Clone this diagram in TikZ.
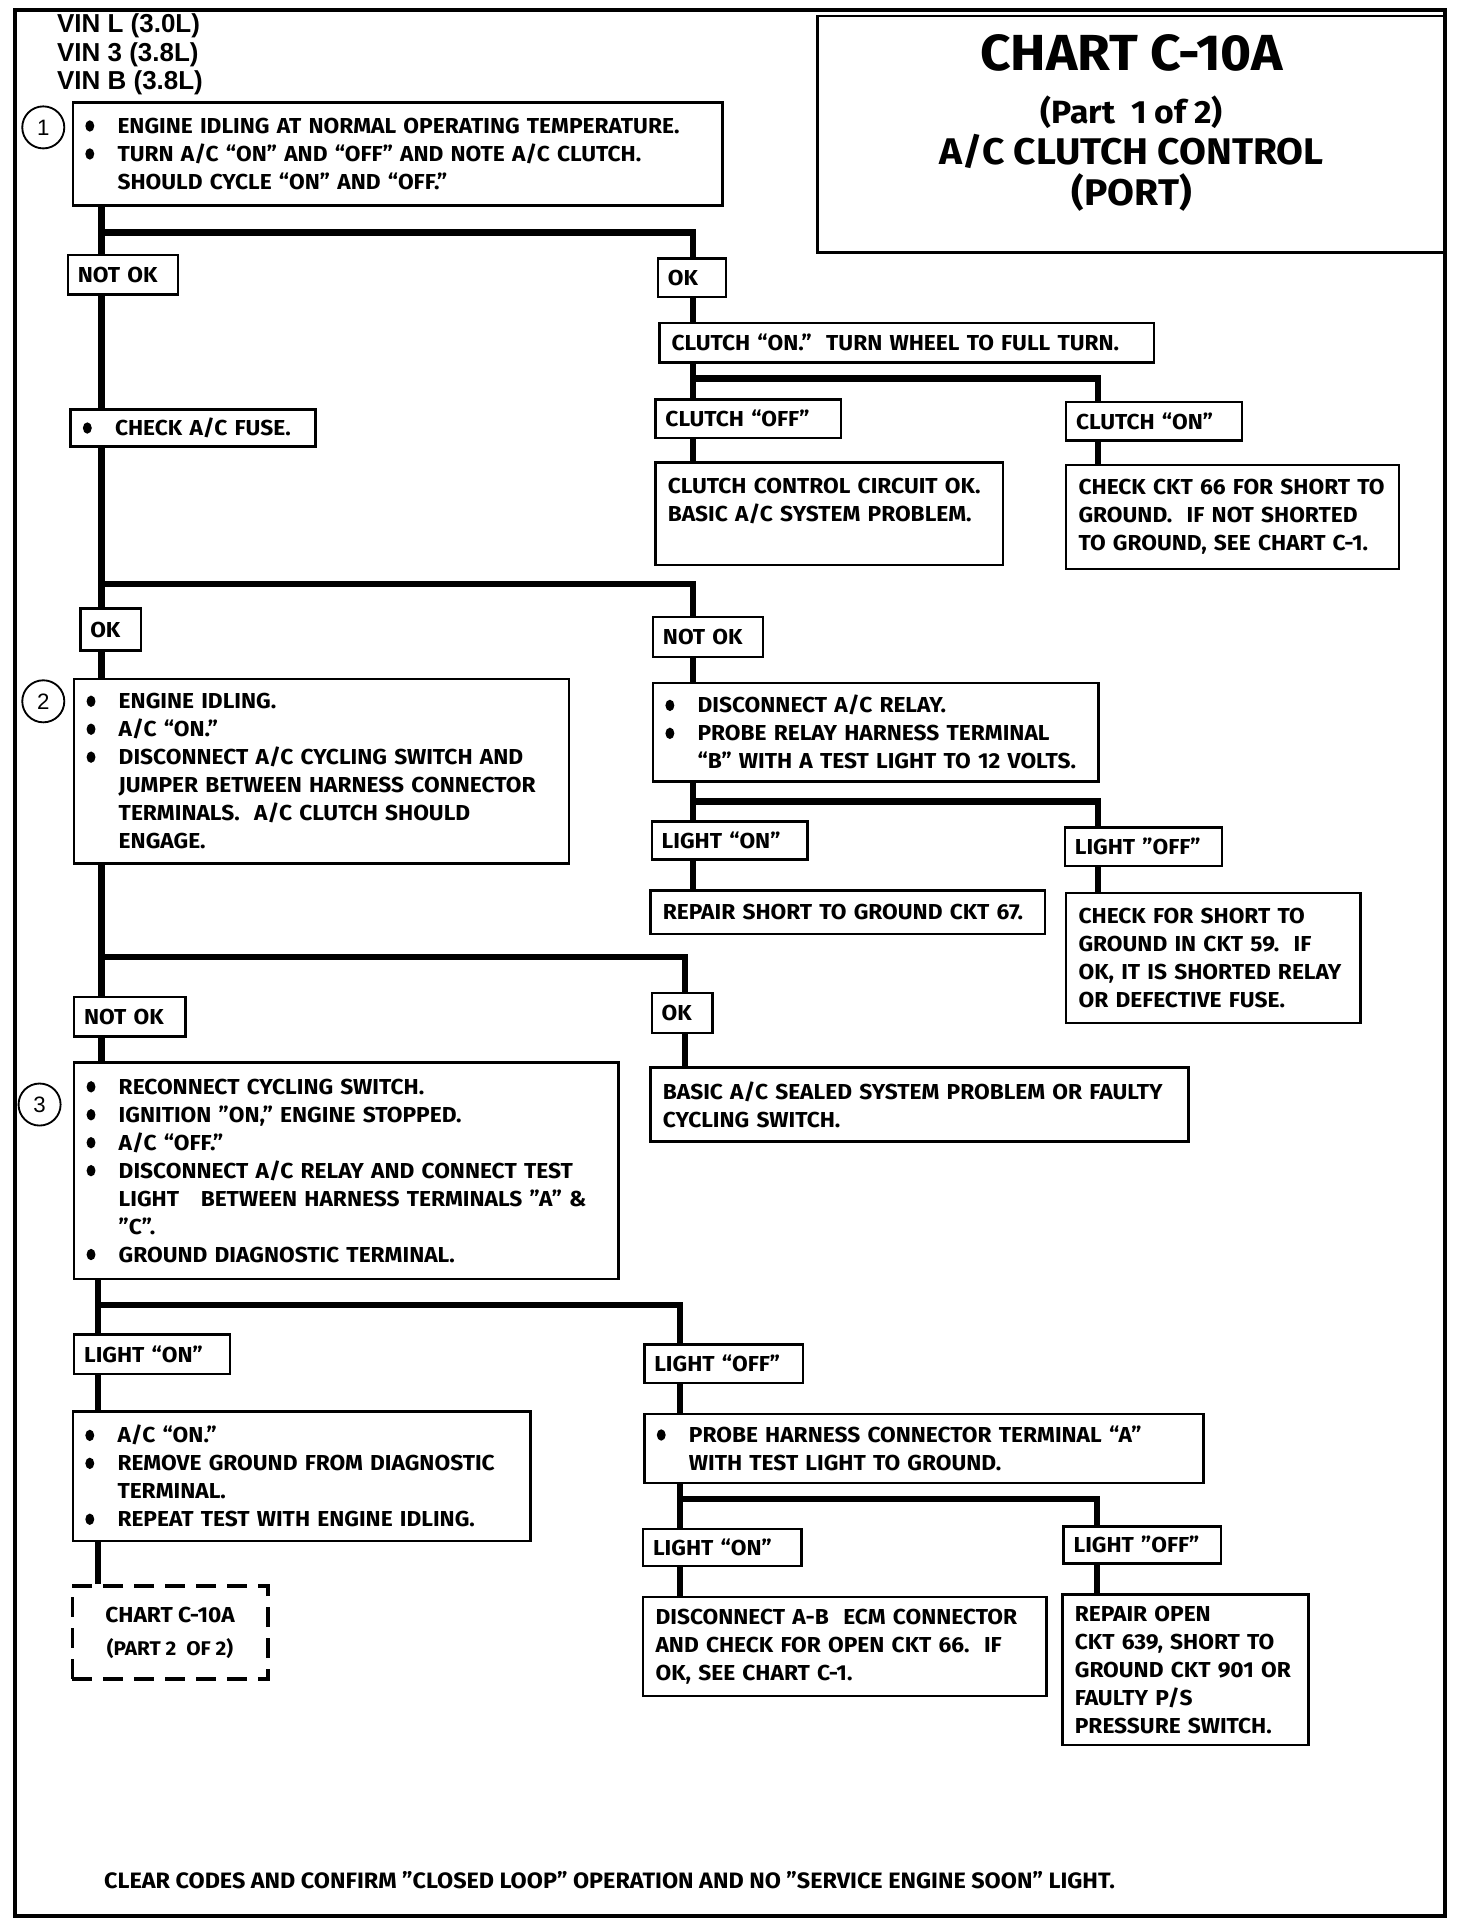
\documentclass[tikz,border=0pt]{standalone}
\usepackage{fontspec}
\setmainfont{Fira Sans}[FakeStretch=1.05]
\newfontfamily\vinfont{Liberation Sans}
\usepackage{tikz}

\newcommand\bul{\makebox[26pt][l]{\raisebox{1.5pt}{\tikz\fill (0,0) ellipse (3.6pt and 4.6pt);}}}
\newcommand\ind{\hspace*{26pt}}

\begin{document}
\begin{tikzpicture}[x=1pt,y=-1pt]
\tikzstyle{chartbox}=[rectangle,draw,line width=2pt,anchor=north west,align=left,inner xsep=10pt,inner ysep=0pt,font=\fontsize{17.5}{22.6}\selectfont\bfseries]
\tikzstyle{answer}=[chartbox,inner xsep=8pt]
\tikzstyle{wire}=[line width=5pt]
\tikzstyle{stepno}=[circle,draw,line width=1.5pt,minimum size=34pt,inner sep=0pt,font=\vinfont\fontsize{18}{18}\selectfont]
\tikzstyle{titleline}=[anchor=base,inner sep=0pt,font=\fontsize{30}{33}\selectfont\bfseries]
\useasboundingbox (0,0) rectangle (1190,1562);
\draw[line width=3pt] (12,8) rectangle (1168,1549);

% heading
\node[anchor=north west,align=left,inner sep=0pt,font=\vinfont\bfseries\fontsize{21}{23}\selectfont] (vin) at (46,11) {VIN L (3.0L)\\VIN 3 (3.8L)\\VIN B (3.8L)};
\node[draw,line width=2pt,anchor=north west,minimum width=507pt,minimum height=191pt] (title) at (660,12) {};
\node[titleline,font=\fontsize{41}{41}\selectfont\bfseries] (chart) at (915,57) {CHART C-10A};
\node[titleline,font=\fontsize{26}{30}\selectfont\bfseries] (part) at (915,100) {(Part~~1 of 2)};
\node[titleline] (clutch) at (915,133) {A/C CLUTCH CONTROL};
\node[titleline] (port) at (915,166) {(PORT)};

% step 1
\node[stepno] (n1) at (35,103) {1};
\node[chartbox,text width=505pt,minimum height=83pt] (step1) at (58,82)
 {\bul ENGINE IDLING AT NORMAL OPERATING TEMPERATURE.\\
  \bul TURN A/C “ON” AND “OFF” AND NOTE A/C CLUTCH.\\
  \ind SHOULD CYCLE “ON” AND “OFF.”};
\node[answer,text width=73pt,minimum height=32pt] (notok1) at (54,205) {NOT OK};
\node[answer,text width=39pt,minimum height=31pt] (ok1) at (531,208) {OK};
\node[chartbox,text width=178pt,minimum height=30pt] (fuse) at (56,330) {\bul CHECK A/C FUSE.};
\node[chartbox,text width=380pt,minimum height=32pt] (turn) at (532,260) {CLUTCH “ON.”~~TURN WHEEL TO FULL TURN.};
\node[answer,text width=134pt,minimum height=31pt] (cloff) at (529,322) {CLUTCH “OFF”};
\node[answer,text width=126pt,minimum height=31pt] (clon) at (861,324) {CLUTCH “ON”};
\node[chartbox,text width=261pt,minimum height=83pt] (ccok) at (529,373)
 {CLUTCH CONTROL CIRCUIT OK.\\ BASIC A/C SYSTEM PROBLEM.\\ \mbox{}};
\node[chartbox,text width=249pt,minimum height=84pt] (ckt66) at (861,375)
 {CHECK CKT 66 FOR SHORT TO\\ GROUND.~~IF NOT SHORTED\\ TO GROUND, SEE CHART C-1.};

% step 2
\node[answer,text width=33pt,minimum height=34pt] (ok2) at (64,491) {OK};
\node[answer,text width=73pt,minimum height=32pt] (notok2) at (527,498) {NOT OK};
\node[stepno] (n2) at (35,567) {2};
\node[chartbox,text width=380pt,minimum height=149pt] (step2) at (59,548)
 {\bul ENGINE IDLING.\\
  \bul A/C “ON.”\\
  \bul DISCONNECT A/C CYCLING SWITCH AND\\
  \ind JUMPER BETWEEN HARNESS CONNECTOR\\
  \ind TERMINALS.~~A/C CLUTCH SHOULD\\
  \ind ENGAGE.};
\node[chartbox,text width=340pt,minimum height=80pt] (relay) at (527,551)
 {\bul DISCONNECT A/C RELAY.\\
  \bul PROBE RELAY HARNESS TERMINAL\\
  \ind “B” WITH A TEST LIGHT TO 12 VOLTS.};
\node[answer,text width=110pt,minimum height=31pt] (lon1) at (526,663) {LIGHT “ON”};
\node[answer,text width=111pt,minimum height=31pt] (loff1) at (860,668) {LIGHT "OFF”};
\node[chartbox,text width=299pt,minimum height=35pt] (ckt67) at (525,719) {REPAIR SHORT TO GROUND CKT 67.};
\node[chartbox,text width=218pt,minimum height=105pt] (ckt59) at (861,721)
 {CHECK FOR SHORT TO\\ GROUND IN CKT 59.~~IF\\ OK, IT IS SHORTED RELAY\\ OR DEFECTIVE FUSE.};

% step 3
\node[answer,text width=74pt,minimum height=32pt] (notok3) at (59,805) {NOT OK};
\node[answer,text width=33pt,minimum height=32pt] (ok3) at (526,802) {OK};
\node[stepno] (n3) at (32,893) {3};
\node[chartbox,text width=420pt,minimum height=175pt] (step3) at (59,858)
 {\bul RECONNECT CYCLING SWITCH.\\
  \bul IGNITION "ON," ENGINE STOPPED.\\
  \bul A/C “OFF.”\\
  \bul DISCONNECT A/C RELAY AND CONNECT TEST\\
  \ind LIGHT~~~BETWEEN HARNESS TERMINALS "A" \&\\
  \ind "C”.\\
  \bul GROUND DIAGNOSTIC TERMINAL.};
\node[chartbox,text width=415pt,minimum height=60pt] (sealed) at (525,862)
 {BASIC A/C SEALED SYSTEM PROBLEM OR FAULTY\\ CYCLING SWITCH.};
\node[answer,text width=110pt,minimum height=32pt] (lon2) at (59,1078) {LIGHT “ON”};
\node[answer,text width=112pt,minimum height=31pt] (loff2) at (520,1086) {LIGHT “OFF”};
\node[chartbox,text width=350pt,minimum height=105pt] (acon) at (58,1140)
 {\bul A/C “ON.”\\
  \bul REMOVE GROUND FROM DIAGNOSTIC\\
  \ind TERMINAL.\\
  \bul REPEAT TEST WITH ENGINE IDLING.};
\node[rectangle,draw,line width=3pt,dash pattern=on 16pt off 9pt,anchor=north west,minimum width=158pt,minimum height=75pt,align=center,font=\fontsize{16}{27}\selectfont\bfseries] (part2) at (57,1281)
 {{\fontsize{17.5}{27}\selectfont CHART C-10A}\\ (PART 2~~OF 2)};
\node[chartbox,text width=432pt,minimum height=56pt] (probe) at (520,1142)
 {\bul PROBE HARNESS CONNECTOR TERMINAL “A”\\
  \ind WITH TEST LIGHT TO GROUND.};
\node[answer,text width=112pt,minimum height=30pt] (lon3) at (519,1235) {LIGHT “ON”};
\node[answer,text width=111pt,minimum height=30pt] (loff3) at (859,1233) {LIGHT "OFF”};
\node[chartbox,text width=306pt,minimum height=80pt] (abecm) at (519,1290)
 {DISCONNECT A-B~~ECM CONNECTOR\\ AND CHECK FOR OPEN CKT 66.~~IF\\ OK, SEE CHART C-1.};
\node[chartbox,text width=179pt,minimum height=122pt] (ckt639) at (858,1288)
 {REPAIR OPEN\\ CKT 639, SHORT TO\\ GROUND CKT 901 OR\\ FAULTY P/S\\ PRESSURE SWITCH.};

\node[anchor=west,inner sep=0pt,font=\fontsize{18}{20}\selectfont\bfseries] (footer) at (84,1520)
 {CLEAR CODES AND CONFIRM "CLOSED LOOP" OPERATION AND NO "SERVICE ENGINE SOON" LIGHT.};

% connectors
\coordinate (fork1) at (82,188);
\coordinate (fork2) at (82,472);
\coordinate (fork3) at (560,306);
\coordinate (fork4) at (82,774);
\coordinate (fork5) at (560,648);
\coordinate (fork6) at (79,1055);
\coordinate (fork7) at (550,1212);
\coordinate (colB) at (560,0);
\coordinate (colC) at (888,0);
\coordinate (colD) at (554,0);
\coordinate (colE) at (887,0);

\draw[wire] (step1.south -| fork1) -- (notok1.north -| fork1);
\draw[wire] (fork1) -| (ok1.north -| colB);
\draw[wire] (notok1.south -| fork1) -- (fuse.north -| fork1);
\draw[wire] (fuse.south -| fork2) -- (ok2.north -| fork2);
\draw[wire] (fork2) -| (notok2.north -| colB);
\draw[wire] (ok1.south -| colB) -- (turn.north -| colB);
\draw[wire] (turn.south -| fork3) -- (cloff.north -| fork3);
\draw[wire] (fork3) -| (clon.north -| colC);
\draw[wire] (cloff.south -| colB) -- (ccok.north -| colB);
\draw[wire] (clon.south -| colC) -- (ckt66.north -| colC);

\draw[wire] (ok2.south -| fork2) -- (step2.north -| fork2);
\draw[wire] (step2.south -| fork4) -- (notok3.north -| fork4);
\draw[wire] (fork4) -| (ok3.north -| colD);
\draw[wire] (notok2.south -| colB) -- (relay.north -| colB);
\draw[wire] (relay.south -| fork5) -- (lon1.north -| fork5);
\draw[wire] (fork5) -| (loff1.north -| colC);
\draw[wire] (lon1.south -| colB) -- (ckt67.north -| colB);
\draw[wire] (loff1.south -| colC) -- (ckt59.north -| colC);

\draw[wire] (notok3.south -| fork4) -- (step3.north -| fork4);
\draw[wire] (ok3.south -| colD) -- (sealed.north -| colD);
\draw[wire] (step3.south -| fork6) -- (lon2.north -| fork6);
\draw[wire] (fork6) -| (loff2.north -| fork7);
\draw[wire] (lon2.south -| fork6) -- (acon.north -| fork6);
\draw[wire] (acon.south -| fork6) -- (part2.north -| fork6);
\draw[wire] (loff2.south -| fork7) -- (probe.north -| fork7);
\draw[wire] (probe.south -| fork7) -- (lon3.north -| fork7);
\draw[wire] (fork7) -| (loff3.north -| colE);
\draw[wire] (lon3.south -| fork7) -- (abecm.north -| fork7);
\draw[wire] (loff3.south -| colE) -- (ckt639.north -| colE);
\end{tikzpicture}
\end{document}
